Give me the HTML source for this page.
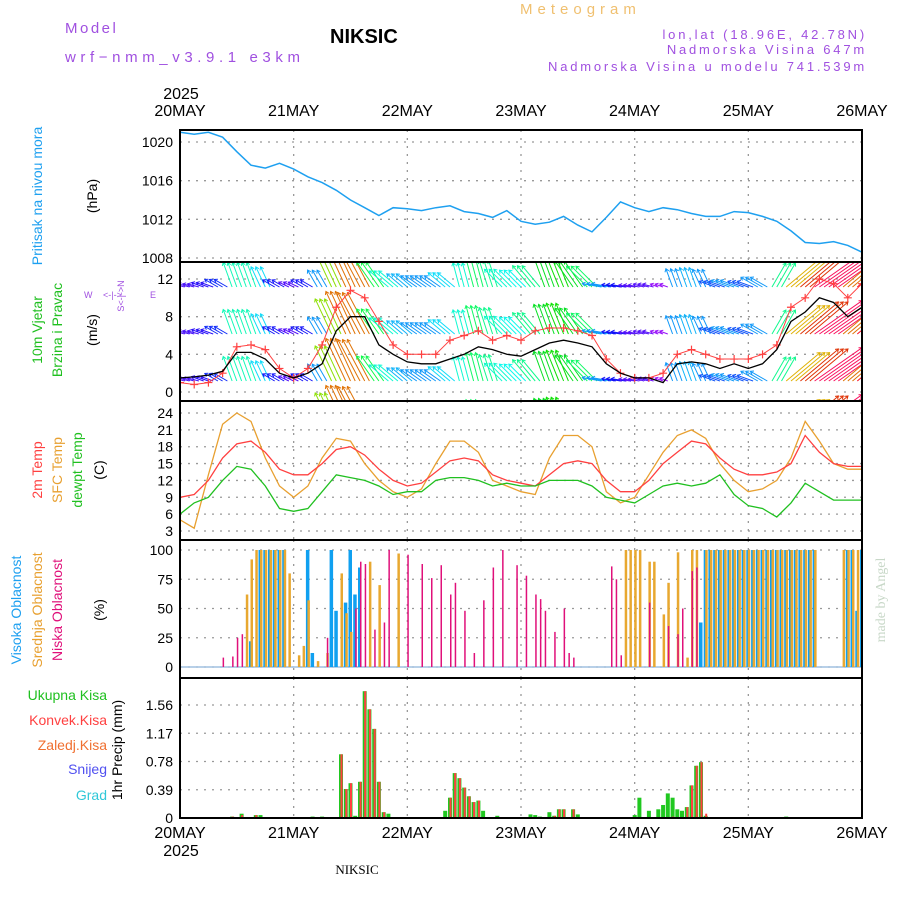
<!DOCTYPE html>
<html><head><meta charset="utf-8"><style>
body{margin:0;background:#fff;}
svg{display:block;font-family:"Liberation Sans",sans-serif;}
</style></head><body>
<svg id="c" width="900" height="900" viewBox="0 0 900 900">
<rect width="900" height="900" fill="#fff"/>
<g>
<text x="65" y="33" font-size="15" fill="#a050e0" letter-spacing="2.5">Model</text>
<text x="65" y="62" font-size="15" fill="#a050e0" letter-spacing="4.6">wrf−nmm_v3.9.1 e3km</text>
<text x="330" y="43" font-size="20" font-weight="bold" fill="#000">NIKSIC</text>
<text x="520" y="14" font-size="15" fill="#f0c070" letter-spacing="5">Meteogram</text>
<text x="867" y="39" font-size="13" fill="#a050e0" text-anchor="end" letter-spacing="2.8">lon,lat (18.96E, 42.78N)</text>
<text x="867" y="54" font-size="13" fill="#a050e0" text-anchor="end" letter-spacing="2.8">Nadmorska Visina 647m</text>
<text x="867" y="71" font-size="13" fill="#a050e0" text-anchor="end" letter-spacing="2.8">Nadmorska Visina u modelu 741.539m</text>
</g>
<g id="plot"></g>
<g font-size="14">
<text transform="translate(42,196) rotate(-90)" text-anchor="middle" fill="#1ea0f0">Pritisak na nivou mora</text>
<text transform="translate(97,196) rotate(-90)" text-anchor="middle" fill="#000">(hPa)</text>
<text transform="translate(42,330) rotate(-90)" text-anchor="middle" fill="#20c020">10m Vjetar</text>
<text transform="translate(62,330) rotate(-90)" text-anchor="middle" fill="#20c020">Brzina i Pravac</text>
<text transform="translate(97,330) rotate(-90)" text-anchor="middle" fill="#000">(m/s)</text>
<text x="84" y="298" font-size="9" fill="#a050e0">W</text>
<text x="150" y="298" font-size="9" fill="#a050e0">E</text>
<text transform="translate(124,296) rotate(-90)" text-anchor="middle" font-size="9" fill="#a050e0">S&lt;-|-&gt;N</text>
<text x="103" y="298" font-size="9" fill="#a050e0">&lt;-|-&gt;</text>
<text transform="translate(42,470) rotate(-90)" text-anchor="middle" fill="#ff4040">2m Temp</text>
<text transform="translate(62,470) rotate(-90)" text-anchor="middle" fill="#e8a030">SFC Temp</text>
<text transform="translate(82,470) rotate(-90)" text-anchor="middle" fill="#20c020">dewpt Temp</text>
<text transform="translate(104,470) rotate(-90)" text-anchor="middle" fill="#000">(C)</text>
<text transform="translate(21,610) rotate(-90)" text-anchor="middle" fill="#1ea0f0">Visoka Oblacnost</text>
<text transform="translate(42,610) rotate(-90)" text-anchor="middle" fill="#e8a030">Srednja Oblacnost</text>
<text transform="translate(62,610) rotate(-90)" text-anchor="middle" fill="#e0107a">Niska Oblacnost</text>
<text transform="translate(104,610) rotate(-90)" text-anchor="middle" fill="#000">(%)</text>
<text x="107" y="700" text-anchor="end" fill="#20c020">Ukupna Kisa</text>
<text x="107" y="725" text-anchor="end" fill="#ff4040">Konvek.Kisa</text>
<text x="107" y="750" text-anchor="end" fill="#f07030">Zaledj.Kisa</text>
<text x="107" y="774" text-anchor="end" fill="#5050f0">Snijeg</text>
<text x="107" y="800" text-anchor="end" fill="#30c8d8">Grad</text>
<text transform="translate(122,750) rotate(-90)" text-anchor="middle" fill="#000">1hr Precip (mm)</text>
</g>
<text transform="translate(885,600) rotate(-90)" text-anchor="middle" font-size="14" font-family="Liberation Serif" fill="#c8d8c8">made by Angel</text>
<text x="357" y="874" text-anchor="middle" font-size="13" font-family="Liberation Serif" fill="#000">NIKSIC</text>
</svg>
<script>
// ---- data (3-hourly, 20MAY00 .. 26MAY00) ----
const pressure=[1021.0,1020.8,1021.0,1020.5,1019.0,1017.6,1017.3,1017.8,1017.2,1016.4,1015.8,1015.0,1014.0,1013.2,1012.4,1013.2,1013.1,1012.9,1013.2,1013.4,1012.8,1012.6,1012.2,1012.9,1011.8,1011.5,1011.7,1012.3,1011.4,1010.7,1012.2,1013.8,1013.2,1012.8,1013.2,1013.0,1012.6,1012.3,1012.3,1012.8,1012.7,1012.3,1011.8,1010.8,1009.6,1009.5,1009.7,1009.3,1008.6];
const windSpeed=[1.5,1.6,1.8,2.2,4.2,4.2,3.5,2.0,1.5,2.0,3.0,6.5,8.0,8.0,5.0,4.0,3.2,3.0,3.0,3.5,4.0,4.8,4.5,4.0,3.8,4.5,5.2,5.5,5.2,4.8,3.0,2.0,1.5,1.5,1.0,3.0,3.2,3.0,2.5,3.0,2.5,3.0,4.5,7.5,8.5,10.0,9.5,8.0,9.0];
const windGust=[1.0,0.8,1.0,2.0,4.8,5.0,4.5,2.5,1.5,2.5,5.0,9.0,10.8,10.0,7.5,5.0,4.0,4.0,4.0,5.5,6.0,6.5,5.5,6.0,5.5,6.5,6.8,6.8,6.5,6.0,3.5,2.0,1.5,1.5,2.0,4.0,4.5,4.0,3.5,3.5,3.5,4.0,5.0,9.0,10.0,12.0,11.5,10.0,11.5];
const windDir=[165,165,160,150,110,110,115,150,155,150,120,115,115,118,125,140,140,145,145,140,105,105,108,135,135,130,110,112,125,135,170,170,170,165,160,110,110,115,160,160,160,150,60,40,40,35,35,40,40];
const temp2m=[9,9.5,12,16,18.5,19,17,14,13,13,15,17.5,18,16.5,14,12,11,11.5,13.5,15.5,16,15.5,13,12,11.5,11,13,15,15.5,15,12,10,10,12,15,17,19,18.5,16,14,13,13,13.5,15,20,17,15,14.5,14.5];
const tempSfc=[5,3.5,13,22,24,22.5,16,11,9,11,16,19.5,19,15,12,10,9,10.5,15,19,19,17,12,11,10,9.5,16,20,20,18,10,8,9,13,17,20,21,19.5,15,12,10,10.5,12,16,22.5,19,15,14,14];
const tempDew=[6,8,9,12,14.5,14,11,7,6.5,7,10,13,12.5,12,11,9.5,10,10,12,12.5,12.5,12,11,11.5,11,11,12,12,12,11,9,8.5,8,9.5,11,11.5,11,11.5,13,9.5,7.5,7,5.5,8,11.5,10,8.5,8.5,8.5];
// ---- hourly cloud cover [hour, %] ----
const cloudHigh=[[15,22],[17,100],[18,100],[19,100],[20,100],[21,100],[22,100],[27,100],[28,12],[32,100],[33,48],[35,55],[36,100],[37,62],[38,85],[110,38],[111,100],[112,100],[113,100],[114,100],[115,100],[116,100],[117,100],[118,100],[119,100],[120,100],[121,100],[122,100],[123,100],[124,100],[125,100],[126,100],[127,100],[128,100],[129,100],[130,100],[131,100],[132,100],[133,100],[134,100],[141,100],[142,100],[143,48],[144,100]];
const cloudMid=[[14,62],[15,92],[16,100],[17,100],[18,100],[19,100],[20,100],[21,100],[22,100],[23,80],[25,10],[26,18],[27,57],[29,5],[31,12],[34,80],[35,46],[36,30],[40,90],[42,70],[46,97],[94,100],[95,100],[96,100],[97,100],[99,90],[100,90],[102,45],[103,72],[105,98],[107,8],[108,100],[109,100],[111,100],[112,100],[113,100],[114,100],[115,100],[116,100],[117,100],[118,100],[119,100],[120,100],[121,100],[122,100],[123,100],[124,100],[125,100],[126,100],[127,100],[128,100],[129,100],[130,100],[131,100],[132,100],[133,100],[134,100],[140,100],[141,100],[142,100],[143,100],[144,100]];
const cloudLow=[[9,8],[11,9],[12,25],[13,28],[31,25],[37,50],[38,90],[39,88],[41,32],[43,38],[44,100],[48,96],[51,88],[53,76],[55,87],[57,62],[58,72],[60,48],[62,12],[64,57],[66,85],[68,100],[71,87],[73,78],[75,62],[76,58],[77,48],[79,30],[81,50],[82,12],[83,8],[91,86],[92,75],[93,10],[99,55],[103,35],[105,28],[106,50],[108,82],[109,85]];
// ---- hourly precip [hour, mm] ----
const precipTotal=[[11,0.02],[12,0.01],[13,0.06],[16,0.04],[17,0.04],[28,0.02],[30,0.02],[34,0.88],[35,0.4],[36,0.48],[37,0.03],[38,0.5],[39,1.75],[40,1.5],[41,1.23],[42,0.5],[43,0.08],[44,0.06],[56,0.1],[57,0.28],[58,0.62],[59,0.55],[60,0.42],[61,0.3],[62,0.22],[63,0.24],[64,0.1],[67,0.03],[74,0.05],[75,0.04],[76,0.02],[78,0.08],[79,0.03],[80,0.12],[81,0.12],[83,0.12],[84,0.05],[96,0.04],[97,0.28],[99,0.1],[101,0.12],[102,0.18],[103,0.34],[104,0.28],[105,0.12],[106,0.1],[107,0.15],[108,0.45],[109,0.72],[110,0.77],[111,0.03],[128,0.02]];
const precipConv=[[11,0.02],[13,0.04],[16,0.04],[34,0.88],[35,0.4],[36,0.48],[38,0.5],[39,1.75],[40,1.5],[41,1.23],[42,0.5],[43,0.08],[57,0.28],[58,0.62],[59,0.55],[60,0.42],[61,0.3],[62,0.22],[63,0.24],[79,0.03],[80,0.12],[81,0.12],[83,0.12],[104,0.02],[107,0.15],[108,0.45],[109,0.72],[110,0.77],[111,0.06]];
const dayLabels=["20MAY","21MAY","22MAY","23MAY","24MAY","25MAY","26MAY"];
const pTicks=[1008,1012,1016,1020];
const wTicks=[0,4,8,12];
const tTicks=[3,6,9,12,15,18,21,24];
const cTicks=[0,25,50,75,100];
const rTicks=[0,0.39,0.78,1.17,1.56];

const NS="http://www.w3.org/2000/svg";
const plot=document.getElementById('plot');
const X0=180,X1=862;
const xh=h=>X0+(X1-X0)*h/144;
function el(t,a,p){const e=document.createElementNS(NS,t);for(const k in a)e.setAttribute(k,a[k]);(p||plot).appendChild(e);return e;}
function lin(d0,d1,r0,r1){return v=>r0+(v-d0)*(r1-r0)/(d1-d0);}
const panels=[
 {name:'pressure',top:130,bot:262,y:lin(1008,1020,258,142),ticks:pTicks,fmt:v=>v},
 {name:'wind',top:262,bot:401,y:lin(0,12,392,279),ticks:wTicks,fmt:v=>v},
 {name:'temp',top:401,bot:540,y:lin(3,24,531,413),ticks:tTicks,fmt:v=>v},
 {name:'cloud',top:540,bot:678,y:lin(0,100,667,550),ticks:cTicks,fmt:v=>v},
 {name:'precip',top:678,bot:818,y:lin(0,1.56,818,705),ticks:rTicks,fmt:v=>v==0?'0':v.toFixed(2)}
];
const defs=el('defs',{});
panels.forEach(p=>{
 const cp=el('clipPath',{id:'clip-'+p.name},defs);
 el('rect',{x:X0,y:p.top,width:X1-X0,height:p.bot-p.top},cp);
 const g=el('g',{});
 
 
 p.g=g;
 p.tickG=el('g',{},g);
 
 
 p.ticks.forEach(v=>{
  const y=p.y(v);
  el('line',{x1:X0,x2:X1,y1:y,y2:y,stroke:'#999','stroke-dasharray':'2,6','stroke-width':1.3},p.tickG);
  const t=el('text',{x:173,y:y+5,'text-anchor':'end','font-size':14,fill:'#000'},p.tickG);
  t.textContent=p.fmt(v);
  
  
 });
 for(let d=1;d<6;d++){const x=xh(d*24);el('line',{x1:x,x2:x,y1:p.top,y2:p.bot,stroke:'#999','stroke-dasharray':'2,6','stroke-width':1.3},g);}
 p.data=el('g',{'clip-path':'url(#clip-'+p.name+')'},g);
});
function line(p,arr,color,name,w){
 const pts=arr.map((v,i)=>xh(i*3).toFixed(1)+','+p.y(v).toFixed(1)).join(' ');
 const l=el('polyline',{points:pts,fill:'none',stroke:color,'stroke-width':w||1.3},p.data);
 
 
 return l;
}
// pressure
line(panels[0],pressure,'#1ea0f0','pressure-line',1.5);
// wind barbs
const wp=panels[1];
const rowBase=[428,381,334,287,240];
for(let h=0;h<=144;h++){
 const i=Math.min(48,Math.round(h/3));
 const s=windSpeed[i],a=windDir[i]*Math.PI/180;
 const L=5.5*s+3;
 const hue=Math.max(-20,310-s*35);
 const col='hsl('+((hue+360)%360)+',95%,'+(s>5&&s<9?45:52)+'%)';
 rowBase.forEach(b=>{
  const x=xh(h),x2=x+L*Math.cos(a),y2=b-L*Math.sin(a);
  const hx=Math.cos(a),hy=-Math.sin(a);
  const ln=el('path',{d:`M${x.toFixed(1)},${b}L${x2.toFixed(1)},${y2.toFixed(1)}M${(x2-3*hx-2*hy).toFixed(1)},${(y2-3*hy+2*hx).toFixed(1)}L${x2.toFixed(1)},${y2.toFixed(1)}L${(x2-3*hx+2*hy).toFixed(1)},${(y2-3*hy-2*hx).toFixed(1)}`,stroke:col,'stroke-width':1,fill:'none'},wp.data);
  
  
 });
}
line(wp,windGust,'#ff4040','wind-gust-line',1);
windGust.forEach((v,i)=>{
 const x=xh(i*3),y=wp.y(v);
 const m=el('path',{d:`M${x-4},${y}h8M${x},${y-4}v8`,stroke:'#ff4040','stroke-width':1.2},wp.data);
 
 
});
line(wp,windSpeed,'#000','wind-speed-line',1.3);
// temps
const tp=panels[2];
line(tp,tempSfc,'#e8a030','sfc-temp-line',1.3);
line(tp,temp2m,'#ff4040','temp-2m-line',1.3);
line(tp,tempDew,'#20c020','dewpoint-line',1.3);
// clouds
const cp=panels[3];
el('line',{x1:X0,x2:X1,y1:cp.y(0),y2:cp.y(0),stroke:'#a0c0e0','stroke-width':1.5},cp.data);
function bars(p,arr,color,w,off,name){
 arr.forEach(([h,v])=>{
  const y=p.y(v),y0=p.y(0);
  const r=el('rect',{x:(xh(h)+off).toFixed(1),y:y.toFixed(1),width:w,height:Math.max(0,y0-y).toFixed(1),fill:color},p.data);
  
  
 });
}
bars(cp,cloudHigh,'#10a0f0',3.5,-2,'high-cloud-bar');
bars(cp,cloudMid,'#e8a830',2.5,-0.5,'mid-cloud-bar');
bars(cp,cloudLow,'#e0107a',1.5,0,'low-cloud-bar');
// precip
const rp=panels[4];
bars(rp,precipTotal,'#20c820',4,-2,'total-precip-bar');
bars(rp,precipConv,'#ff4040',2,-0.5,'conv-precip-bar');
// frames
panels.forEach(p=>{
 el('rect',{x:X0,y:p.top,width:X1-X0,height:p.bot-p.top,fill:'none',stroke:'#000','stroke-width':2},p.g);
});
// x labels
dayLabels.forEach((d,i)=>{
 const x=xh(i*24);
 const t=el('text',{x:x,y:116,'text-anchor':'middle','font-size':16,fill:'#000'});
 t.textContent=d;
 
 
 const b=el('text',{x:x,y:838,'text-anchor':'middle','font-size':16,fill:'#000'});
 b.textContent=d;
 
 
});
const y1=el('text',{x:181,y:99,'text-anchor':'middle','font-size':16,fill:'#000'});y1.textContent='2025';


const y2=el('text',{x:181,y:856,'text-anchor':'middle','font-size':16,fill:'#000'});y2.textContent='2025';


</script>
</body></html>
